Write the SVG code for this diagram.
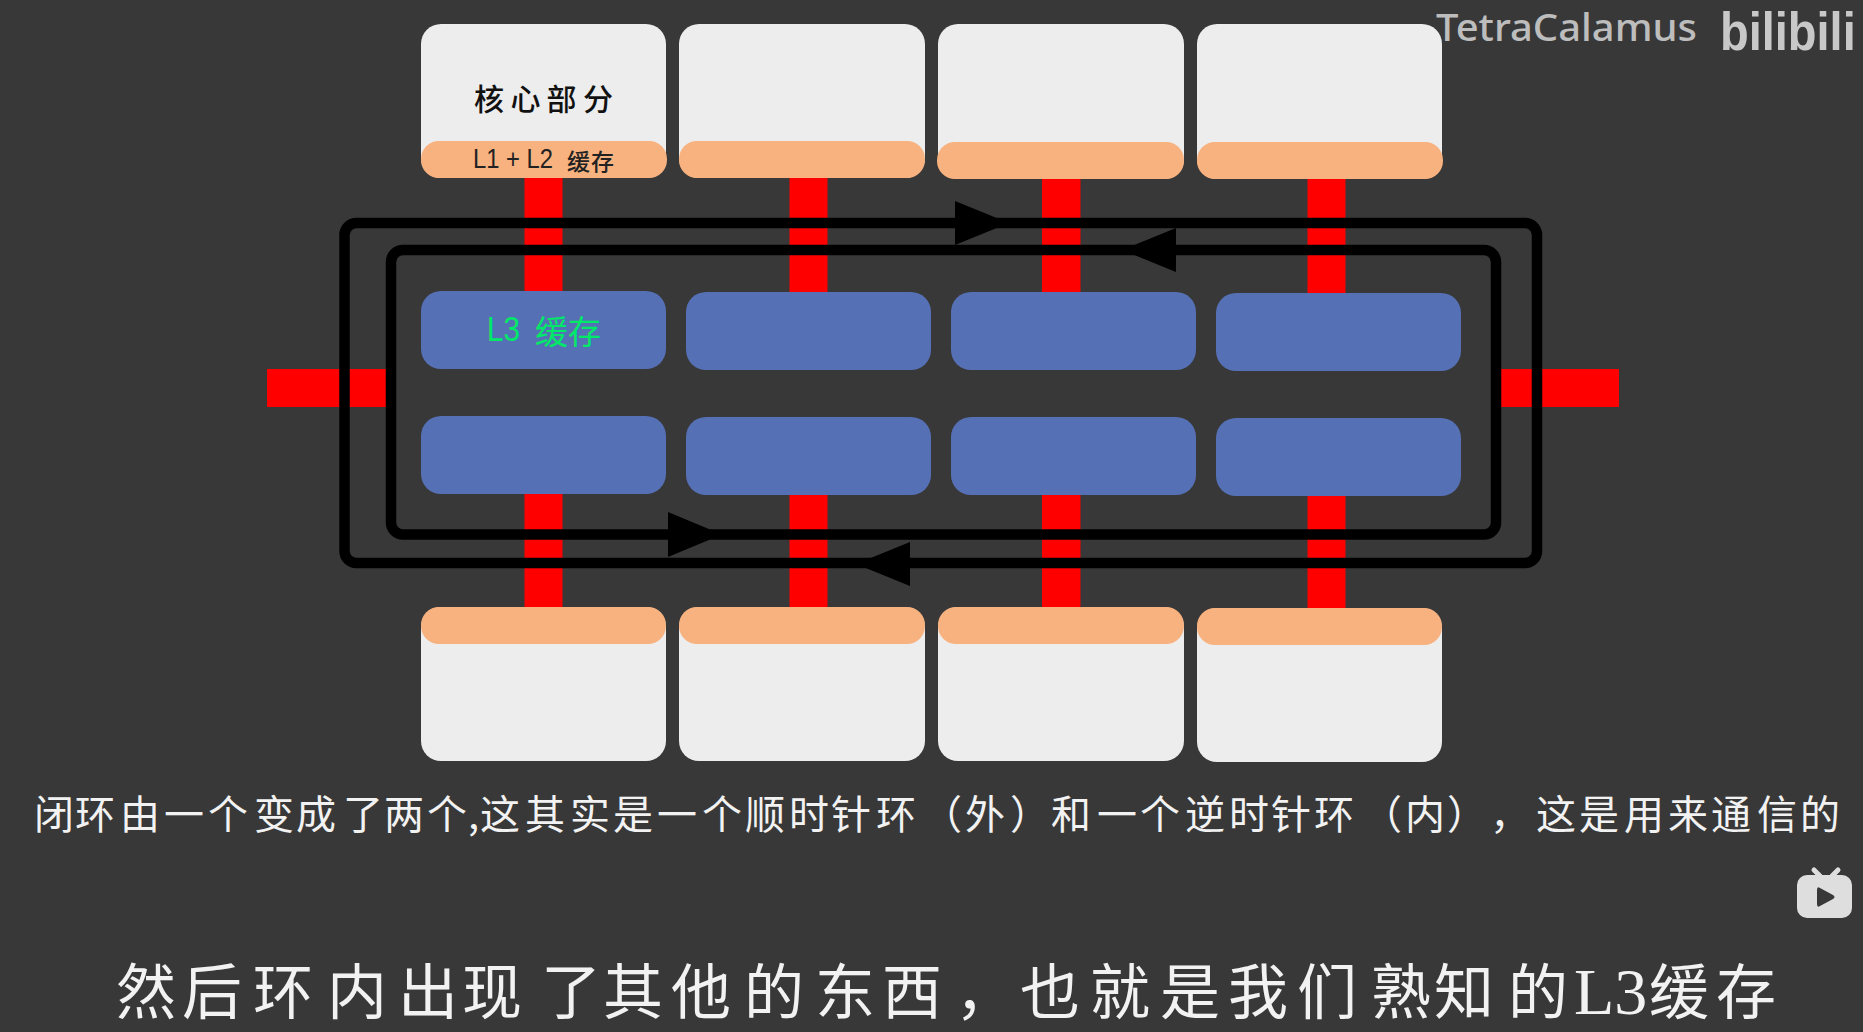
<svg xmlns="http://www.w3.org/2000/svg" width="1863" height="1032" viewBox="0 0 1863 1032">
<style>
.core{fill:#ededed}
.cache{fill:#f7b27f}
.l3{fill:#5570b4}
.bus{fill:#ff0000}
.ring{fill:none;stroke:#000;stroke-width:10.500}
.head{fill:#000}
.cjk{font-family:"Noto Sans CJK SC","Liberation Sans",sans-serif}
.cap1{font-size:40px;fill:#f2f2f2}
.cap2{font-size:60px;fill:#f2f2f2}
</style>
<rect width="1863" height="1032" fill="#383838"/>
<g id="connectors">
<rect class="bus" x="524.500" y="175" width="38" height="120"/>
<rect class="bus" x="789.500" y="175" width="38" height="120"/>
<rect class="bus" x="1042" y="175" width="38.500" height="120"/>
<rect class="bus" x="1307.500" y="175" width="38" height="120"/>
<rect class="bus" x="524.500" y="490" width="38" height="120"/>
<rect class="bus" x="789.500" y="490" width="38" height="120"/>
<rect class="bus" x="1042" y="490" width="38.500" height="120"/>
<rect class="bus" x="1307.500" y="490" width="38" height="120"/>
<rect class="bus" x="267" y="369" width="119" height="38"/>
<rect class="bus" x="1501" y="369" width="118" height="38"/>
<rect id="ring-clockwise" class="ring" x="344.500" y="223" width="1192.500" height="340" rx="12"/>
<rect id="ring-counter-clockwise" class="ring" x="391" y="250" width="1105" height="284.500" rx="12"/>
<path class="head" d="M955 201L1009 223L955 245Z"/>
<path class="head" d="M1176 228L1122 250L1176 272Z"/>
<path class="head" d="M668 512L722 534.500L668 557Z"/>
<path class="head" d="M910 542L856 564L910 586Z"/>
</g>
<g id="core-top-1"><rect class="core" x="421" y="24" width="245" height="154" rx="20"/><rect class="cache" x="421" y="141" width="246" height="37" rx="18"/>
<text class="cjk" x="474 510.500 546.500 583" y="110" font-size="30" font-weight="500" fill="#111">核心部分</text>
<text x="473" y="168" font-family="'Liberation Sans',sans-serif" font-size="27" fill="#222" textLength="80" lengthAdjust="spacingAndGlyphs">L1 + L2</text>
<text class="cjk" x="567 591" y="170" font-size="23" font-weight="500" fill="#222">缓存</text></g>
<g id="core-top-2"><rect class="core" x="679" y="24" width="246" height="154" rx="20"/><rect class="cache" x="679" y="141" width="246" height="37" rx="18"/></g>
<g id="core-top-3"><rect class="core" x="938" y="24" width="246" height="155" rx="20"/><rect class="cache" x="937" y="142" width="247" height="37" rx="18"/></g>
<g id="core-top-4"><rect class="core" x="1197" y="24" width="245" height="155" rx="20"/><rect class="cache" x="1197" y="142" width="246" height="37" rx="18"/></g>
<g id="l3-1"><rect class="l3" x="421" y="291" width="245" height="78" rx="20"/>
<text x="487" y="341" font-family="'Liberation Sans',sans-serif" font-size="35" fill="#00e868" textLength="33" lengthAdjust="spacingAndGlyphs">L3</text>
<text class="cjk" x="535 568" y="344" font-size="33" fill="#00e868">缓存</text></g>
<g id="l3-2"><rect class="l3" x="686" y="292" width="245" height="78" rx="20"/></g>
<g id="l3-3"><rect class="l3" x="951" y="292" width="245" height="78" rx="20"/></g>
<g id="l3-4"><rect class="l3" x="1216" y="293" width="245" height="78" rx="20"/></g>
<g id="l3-5"><rect class="l3" x="421" y="416" width="245" height="78" rx="20"/></g>
<g id="l3-6"><rect class="l3" x="686" y="417" width="245" height="78" rx="20"/></g>
<g id="l3-7"><rect class="l3" x="951" y="417" width="245" height="78" rx="20"/></g>
<g id="l3-8"><rect class="l3" x="1216" y="418" width="245" height="78" rx="20"/></g>
<g id="core-bottom-1"><rect class="core" x="421" y="607" width="245" height="154" rx="20"/><rect class="cache" x="421" y="607" width="245" height="37" rx="18"/></g>
<g id="core-bottom-2"><rect class="core" x="679" y="607" width="246" height="154" rx="20"/><rect class="cache" x="679" y="607" width="246" height="37" rx="18"/></g>
<g id="core-bottom-3"><rect class="core" x="938" y="607" width="246" height="154" rx="20"/><rect class="cache" x="938" y="607" width="246" height="37" rx="18"/></g>
<g id="core-bottom-4"><rect class="core" x="1197" y="608" width="245" height="154" rx="20"/><rect class="cache" x="1197" y="608" width="245" height="37" rx="18"/></g>
<text class="cjk cap1" y="829" x="34 75 120 164 208 254 296 343 384 427 468 480 525 570 613 657 702 745 789 831 876 922 965 1010 1051 1097 1140 1185 1229 1271 1314 1362 1405 1447 1490 1536 1579 1624 1668 1711 1757 1800">闭环由一个变成了两个,这其实是一个顺时针环（外）和一个逆时针环（内），这是用来通信的</text>
<text class="cjk cap2" y="1014" x="116 182 253 327 398 462 541 603 671 744 815 882 955 1020 1090 1160 1228 1297 1371 1434 1508">然后环内出现了其他的东西，也就是我们熟知的</text>
<text x="1574" y="1014" font-family="'Liberation Serif',serif" font-size="66" fill="#f2f2f2">L3</text>
<text class="cjk cap2" y="1014" x="1649 1716">缓存</text>
<text x="1436" y="41" font-family="'Noto Sans',sans-serif" font-weight="500" font-size="38" fill="#bdbdbd" textLength="261" lengthAdjust="spacingAndGlyphs">TetraCalamus</text>
<text transform="translate(1720 50) scale(.87 1)" font-family="'Liberation Sans',sans-serif" font-weight="700" font-size="54" fill="#c8c8c8">bilibili</text>
<g id="play-badge">
<rect x="1797" y="875" width="55" height="43" rx="10" fill="#dedede"/>
<path d="M1814 870L1820 876M1838 870L1832 876" stroke="#dedede" stroke-width="5" stroke-linecap="round" fill="none"/>
<path d="M1817 890V904Q1817 908 1820 906L1833 899Q1836 897 1833 895L1820 888Q1817 886 1817 890Z" fill="#383838"/>
</g>
</svg>
